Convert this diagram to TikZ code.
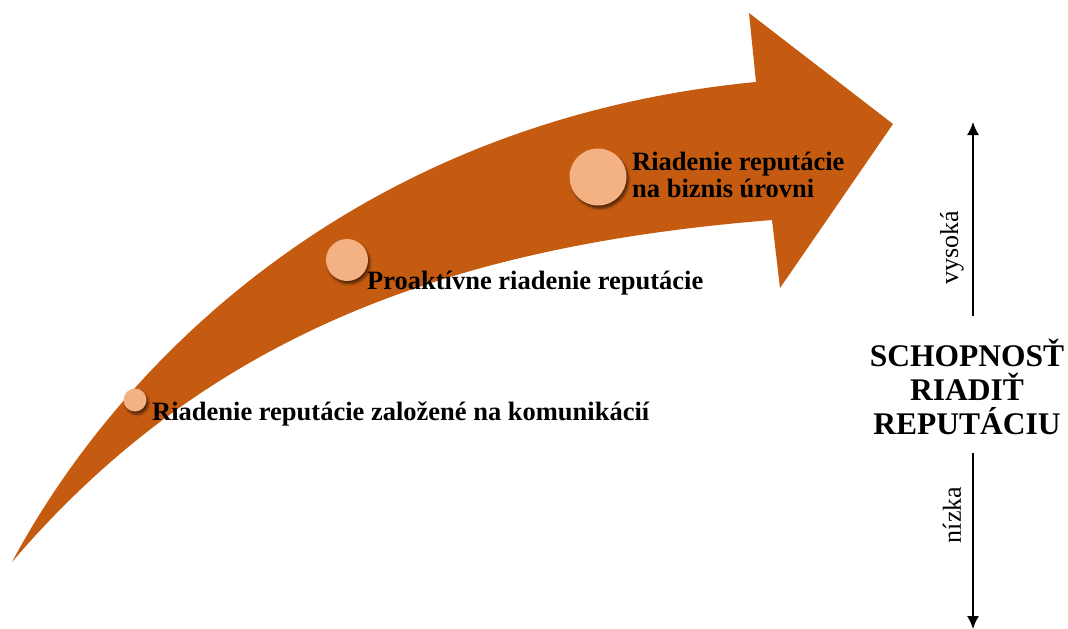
\documentclass[tikz,border=0pt]{standalone}
\usepackage{fontspec}
\setmainfont{Liberation Serif}
\usetikzlibrary{arrows.meta,shadows.blur}
\definecolor{rust}{HTML}{C55A11}
\definecolor{peach}{HTML}{F4B183}
\begin{document}
\begin{tikzpicture}[x=1pt,y=-1pt,
  stage/.style={circle,fill=peach,inner sep=0pt,
    blur shadow={shadow xshift=2pt,shadow yshift=-3pt,shadow blur steps=6,shadow opacity=55}},
  steplabel/.style={anchor=west,font=\fontsize{26.5}{27}\selectfont\bfseries,inner sep=0pt,align=left},
  scalelabel/.style={rotate=90,font=\fontsize{26}{28}\selectfont,inner sep=0pt},
  axis/.style={line width=1.6pt,-{Latex[length=13pt,width=12pt]}}]
\useasboundingbox (0,0) rectangle (1068,629);
% curved rising arrow
\fill[rust] (12,562) .. controls (120,360) and (360,120) .. (756,82)
  -- (749,13) -- (893,124) -- (780,288) -- (772,220)
  .. controls (460,245) and (210,330) .. (12,562) -- cycle;
% stages along the arrow
\node[stage,minimum size=23pt] (s1) at (135,400) {};
\node[stage,minimum size=42pt] (s2) at (347,260) {};
\node[stage,minimum size=57pt] (s3) at (598,177) {};
\node[steplabel] (t1) at (152,414) {Riadenie reputácie založené na komunikácií};
\node[steplabel] (t2) at (367,283) {Proaktívne riadenie reputácie};
\node[steplabel] (t3) at (632,175) {Riadenie reputácie\\na biznis úrovni};
% capability scale
\node[font=\fontsize{31.5}{34}\selectfont\bfseries,align=center,inner sep=0pt] (cap) at (967,387)
  {SCHOPNOSŤ\\RIADIŤ\\REPUTÁCIU};
\coordinate (hiS) at (973,316);
\coordinate (hi) at (973,122);
\coordinate (loS) at (973,453);
\coordinate (lo) at (973,629);
\draw[axis] (hiS) -- (hi);
\draw[axis] (loS) -- (lo);
\node[scalelabel] (vy) at (952,248) {vysoká};
\node[scalelabel] (nz) at (952,515) {nízka};
\end{tikzpicture}
\end{document}
